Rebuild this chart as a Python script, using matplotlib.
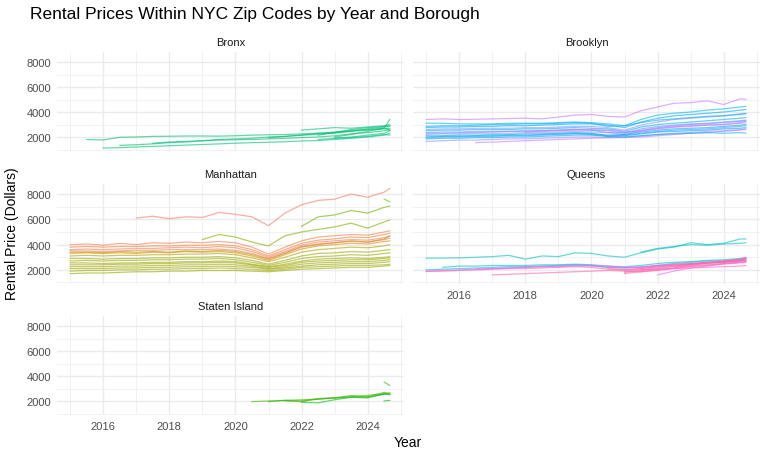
import numpy as np
import matplotlib.pyplot as plt
from matplotlib.ticker import MultipleLocator

plt.rcParams['font.family'] = ['Liberation Sans', 'DejaVu Sans']

# half-yearly sample dates, last one is the latest month in the data
dates = [2015.0, 2015.5, 2016.0, 2016.5, 2017.0, 2017.5, 2018.0, 2018.5, 2019.0, 2019.5,
         2020.0, 2020.5, 2021.0, 2021.5, 2022.0, 2022.5, 2023.0, 2023.5, 2024.0, 2024.5, 2024.67]

# each zip code: (first date, rents from there on)
bronx = [
    (2015.5, [1800, 1760, 1980, 2000, 2050, 2060, 2080, 2080, 2070, 2100, 2150, 2180, 2200, 2250, 2300, 2300, 2450, 2550, 2650, 2700]),
    (2016.0, [1120, 1150, 1200, 1250, 1300, 1350, 1400, 1450, 1500, 1550, 1580, 1620, 1680, 1720, 1800, 1900, 2000, 2150, 2300]),
    (2016.5, [1330, 1380, 1450, 1550, 1600, 1700, 1750, 1780, 1800, 1850, 1900, 1950, 2000, 2100, 2250, 2350, 2500, 2600]),
    (2017.5, [1500, 1600, 1650, 1700, 1800, 1850, 1900, 2000, 2050, 2150, 2200, 2350, 2500, 2650, 2800, 2850]),
    (2022.0, [2550, 2650, 2750, 2700, 2800, 2900, 3000]),
    (2022.5, [2150, 2350, 2600, 2750, 2850, 2900]),
    (2023.0, [2000, 2200, 2450, 2700, 3400]),
    (2022.5, [1800, 1900, 2000, 2150, 2300, 2500]),
    (2023.0, [1900, 1950, 2050, 2200, 2150]),
    (2021.0, [1950, 2050, 2150, 2300, 2400, 2500, 2600, 2700, 2550]),
]

brooklyn = [
    (2015.0, [3400, 3450, 3400, 3420, 3450, 3480, 3500, 3450, 3600, 3750, 3800, 3650, 3600, 4100, 4400, 4700, 4750, 4900, 4600, 5050, 5000]),
    (2015.0, [3100, 3100, 3050, 3050, 3050, 3100, 3100, 3100, 3150, 3200, 3150, 3050, 2900, 3400, 3750, 3900, 4000, 4150, 4250, 4400, 4450]),
    (2015.0, [2750, 2800, 2800, 2850, 2850, 2900, 2900, 2950, 3000, 3050, 3050, 2950, 2750, 3200, 3500, 3700, 3800, 3900, 4000, 4150, 4200]),
    (2015.0, [2600, 2650, 2650, 2700, 2700, 2700, 2750, 2750, 2800, 2850, 2850, 2750, 2550, 2950, 3200, 3400, 3500, 3600, 3700, 3850, 3900]),
    (2015.0, [2500, 2550, 2550, 2600, 2600, 2600, 2650, 2650, 2700, 2750, 2700, 2650, 2450, 2800, 3000, 3100, 3200, 3300, 3400, 3500, 3550]),
    (2015.0, [2350, 2400, 2400, 2450, 2450, 2450, 2500, 2500, 2550, 2600, 2550, 2500, 2300, 2650, 2850, 2950, 3050, 3100, 3200, 3300, 3350]),
    (2015.0, [2200, 2250, 2250, 2300, 2300, 2300, 2350, 2350, 2400, 2450, 2400, 2350, 2200, 2500, 2700, 2800, 2850, 2950, 3000, 3100, 3150]),
    (2015.0, [2100, 2100, 2150, 2150, 2200, 2200, 2250, 2250, 2300, 2350, 2300, 2150, 2200, 2400, 2550, 2650, 2700, 2750, 2850, 2950, 3000]),
    (2015.0, [1950, 2000, 2000, 2050, 2050, 2100, 2100, 2150, 2200, 2250, 2200, 2100, 2150, 2300, 2450, 2550, 2600, 2650, 2750, 2850, 2900]),
    (2015.0, [1850, 1900, 1900, 1950, 1950, 2000, 2000, 2050, 2100, 2150, 2150, 2050, 2100, 2250, 2400, 2450, 2500, 2550, 2650, 2700, 2750]),
    (2015.0, [1650, 1700, 1750, 1750, 1800, 1850, 1850, 1900, 1950, 2000, 2000, 1950, 2000, 2100, 2200, 2300, 2350, 2450, 2500, 2600, 2650]),
    (2016.5, [1550, 1600, 1650, 1700, 1750, 1800, 1850, 1900, 1950, 1950, 2000, 2100, 2200, 2300, 2350, 2450, 2550, 2600]),
    (2015.0, [2000, 2050, 2050, 2100, 2100, 2150, 2150, 2200, 2250, 2300, 2250, 2050, 2000, 2100, 2200, 2250, 2300, 2350, 2300, 2350, 2300]),
    (2015.0, [2850, 2900, 2900, 2950, 3000, 3000, 3050, 3050, 3100, 3150, 3100, 2850, 2900, 3150, 3350, 3450, 3550, 3650, 3700, 3800, 3850]),
    (2015.0, [2300, 2300, 2350, 2350, 2400, 2450, 2450, 2500, 2550, 2600, 2550, 2350, 2350, 2550, 2750, 2900, 3000, 3050, 3150, 3250, 3300]),
    (2018.0, [2400, 2450, 2500, 2550, 2600, 2550, 2400, 2450, 2650, 2800, 2900, 2950, 3000, 3150, 3250]),
]

manhattan = [
    (2015.0, [4000, 4050, 3950, 4100, 4000, 4150, 4100, 4200, 4150, 4250, 4150, 3800, 3250, 3800, 4300, 4600, 4700, 4800, 4750, 5000, 5100]),
    (2015.0, [3800, 3850, 3800, 3850, 3850, 3900, 3900, 3950, 3950, 4000, 3900, 3600, 3100, 3600, 4100, 4350, 4450, 4600, 4550, 4800, 4900]),
    (2015.0, [3400, 3400, 3350, 3450, 3400, 3450, 3400, 3500, 3450, 3550, 3450, 3200, 2850, 3300, 3800, 4000, 4150, 4300, 4200, 4450, 4700]),
    (2015.0, [3300, 3350, 3300, 3350, 3300, 3400, 3350, 3450, 3400, 3450, 3350, 3100, 2750, 3200, 3650, 3900, 4000, 4100, 4050, 4250, 4300]),
    (2015.0, [3600, 3650, 3600, 3650, 3700, 3700, 3750, 3800, 3750, 3850, 3750, 3450, 3000, 3450, 3950, 4200, 4300, 4400, 4350, 4550, 4650]),
    (2015.0, [3100, 3150, 3100, 3150, 3150, 3200, 3200, 3250, 3250, 3300, 3200, 2950, 2650, 3000, 3400, 3600, 3700, 3800, 3750, 3900, 4000]),
    (2015.0, [2900, 2900, 2850, 2900, 2900, 2950, 2950, 3000, 3000, 3050, 2950, 2750, 2450, 2750, 3100, 3300, 3350, 3450, 3400, 3550, 3600]),
    (2015.0, [2700, 2750, 2700, 2750, 2750, 2800, 2800, 2850, 2850, 2900, 2800, 2600, 2350, 2600, 2900, 3050, 3100, 3200, 3150, 3300, 3350]),
    (2015.0, [2550, 2550, 2500, 2550, 2550, 2600, 2600, 2650, 2650, 2700, 2650, 2450, 2250, 2450, 2700, 2850, 2900, 2950, 2900, 3000, 3050]),
    (2015.0, [2400, 2400, 2400, 2450, 2450, 2500, 2500, 2550, 2550, 2600, 2550, 2400, 2200, 2350, 2600, 2700, 2750, 2800, 2800, 2900, 2950]),
    (2015.0, [2250, 2250, 2250, 2300, 2300, 2350, 2350, 2400, 2400, 2450, 2400, 2300, 2100, 2250, 2450, 2550, 2600, 2650, 2650, 2750, 2800]),
    (2015.0, [2100, 2100, 2100, 2150, 2150, 2200, 2200, 2250, 2250, 2300, 2250, 2200, 2050, 2150, 2300, 2400, 2450, 2500, 2500, 2600, 2650]),
    (2015.0, [1900, 1950, 1950, 2000, 2000, 2050, 2050, 2100, 2100, 2150, 2100, 2050, 1950, 2050, 2200, 2250, 2300, 2350, 2350, 2400, 2450]),
    (2015.0, [1700, 1750, 1750, 1800, 1850, 1850, 1900, 1900, 1950, 1950, 1950, 1900, 1850, 1950, 2050, 2100, 2150, 2200, 2200, 2300, 2350]),
    (2017.0, [6100, 6250, 6050, 6200, 6150, 6550, 6400, 6200, 5500, 6500, 7150, 7500, 7600, 8000, 7750, 8150, 8450]),
    (2022.0, [5450, 6200, 6350, 6700, 6500, 6950, 7050]),
    (2019.0, [4400, 4800, 4600, 4200, 3900, 4700, 5000, 5200, 5400, 5700, 5300, 5800, 5950]),
    (2024.5, [7600, 7400]),
    (2015.0, [3500, 3500, 3450, 3500, 3550, 3550, 3600, 3600, 3600, 3650, 3550, 3300, 2900, 3350, 3850, 4050, 4150, 4250, 4200, 4400, 4500]),
]

queens = [
    (2015.0, [2930, 2930, 2950, 3000, 3050, 3150, 2850, 3100, 3050, 3350, 3300, 3100, 3000, 3350, 3650, 3800, 4150, 4000, 4100, 4450, 4450]),
    (2021.5, [3400, 3700, 3850, 4000, 3950, 4050, 4100, 4150]),
    (2015.5, [2200, 2300, 2300, 2350, 2350, 2350, 2400, 2400, 2450, 2400, 2300, 2250, 2350, 2500, 2600, 2650, 2750, 2800, 2900, 2950]),
    (2015.0, [2000, 2050, 2100, 2150, 2200, 2250, 2250, 2300, 2350, 2400, 2350, 2200, 2150, 2200, 2350, 2500, 2600, 2700, 2700, 2850, 2900]),
    (2015.0, [1870, 1900, 1950, 2000, 2050, 2100, 2100, 2150, 2200, 2250, 2200, 2050, 2000, 2100, 2250, 2350, 2450, 2550, 2600, 2700, 2750]),
    (2015.0, [1900, 1950, 2000, 2050, 2100, 2150, 2200, 2250, 2300, 2350, 2300, 2200, 2150, 2250, 2350, 2450, 2500, 2600, 2650, 2750, 2800]),
    (2017.0, [1600, 1650, 1700, 1750, 1800, 1850, 1900, 1950, 1900, 1850, 1950, 2100, 2250, 2350, 2500, 2600, 2650]),
    (2016.5, [2050, 2100, 2150, 2200, 2250, 2250, 2300, 2350, 2300, 2200, 2200, 2300, 2400, 2450, 2550, 2650, 2700, 2750]),
    (2021.0, [1800, 1950, 2100, 2250, 2400, 2550, 2650, 2800, 2900]),
    (2021.0, [1700, 1850, 2000, 2150, 2300, 2400, 2500, 2600, 2650]),
    (2022.0, [1600, 1900, 2150, 2300, 2450, 2550, 2600]),
    (2021.5, [2000, 2150, 2300, 2450, 2550, 2700, 2850, 3000]),
    (2020.5, [2100, 2000, 2100, 2250, 2400, 2500, 2600, 2700, 2800, 2750]),
    (2022.5, [2200, 2350, 2500, 2600, 2700, 2900]),
    (2021.0, [1900, 2000, 2050, 2100, 2150, 2200, 2250, 2300, 2350]),
]

staten_island = [
    (2020.5, [1950, 2000, 2050, 2100, 2150, 2250, 2350, 2450, 2600, 2650]),
    (2021.0, [1950, 2050, 2000, 2150, 2250, 2300, 2350, 2550, 2600]),
    (2021.5, [2000, 1950, 2200, 2250, 2450, 2300, 2700, 2550]),
    (2022.0, [1900, 1850, 2100, 2300, 2250, 2550, 2500]),
    (2024.5, [3500, 3250]),
    (2024.5, [2000, 2050]),
]

# ggplot-like hues for each zip line
hues = {
    'Bronx': [152, 158, 150, 162, 155, 160, 148, 165, 157, 153],
    'Brooklyn': [290, 222, 245, 265, 235, 255, 275, 232, 250, 240, 270, 285, 215, 228, 260, 295],
    'Manhattan': [25, 32, 88, 38, 20, 80, 95, 90, 84, 96, 86, 92, 88, 94, 18, 110, 104, 108, 28],
    'Queens': [195, 198, 200, 205, 345, 320, 350, 300, 340, 355, 305, 335, 360, 345, 330],
    'Staten Island': [122, 126, 118, 130, 124, 128],
}


def hcl(h, c=100, l=65):
    h = np.radians(h)
    u, v = c * np.cos(h), c * np.sin(h)
    xn, yn, zn = 0.95047, 1.0, 1.08883
    un = 4 * xn / (xn + 15 * yn + 3 * zn)
    vn = 9 * yn / (xn + 15 * yn + 3 * zn)
    y = yn * ((l + 16) / 116) ** 3
    up = u / (13 * l) + un
    vp = v / (13 * l) + vn
    x = y * 9 * up / (4 * vp)
    z = y * (12 - 3 * up - 20 * vp) / (4 * vp)
    m = np.array([[3.2406, -1.5372, -0.4986],
                  [-0.9689, 1.8758, 0.0415],
                  [0.0557, -0.2040, 1.0570]])
    rgb = np.clip(m @ np.array([x, y, z]), 0, 1)
    rgb = np.where(rgb <= 0.0031308, 12.92 * rgb, 1.055 * rgb ** (1 / 2.4) - 0.055)
    return np.clip(rgb, 0, 1)


W, H = 768, 460
fig = plt.figure(figsize=(W / 100, H / 100), dpi=100)


def make_ax(x0, y0, x1, y1):
    return fig.add_axes([x0 / W, 1 - y1 / H, (x1 - x0) / W, (y1 - y0) / H])


panels = [
    ('Bronx', bronx, (57, 53, 404, 152), True, False),
    ('Brooklyn', brooklyn, (413, 53, 760, 152), False, False),
    ('Manhattan', manhattan, (57, 185, 404, 285), True, False),
    ('Queens', queens, (413, 185, 760, 285), False, True),
    ('Staten Island', staten_island, (57, 317, 404, 416), True, True),
]

for name, series, box, ylab, xlab in panels:
    ax = make_ax(*box)
    for (start, vals), h in zip(series, hues[name]):
        i = dates.index(start)
        ax.plot(dates[i:i + len(vals)], vals, color=hcl(h), alpha=0.6, lw=0.9)
    ax.set_xlim(2014.6, 2025.1)
    ax.set_ylim(880, 8800)
    ax.xaxis.set_major_locator(MultipleLocator(2))
    ax.xaxis.set_minor_locator(MultipleLocator(1))
    ax.yaxis.set_major_locator(MultipleLocator(2000))
    ax.yaxis.set_minor_locator(MultipleLocator(1000))
    ax.grid(which='major', color='#EBEBEB', lw=1.0)
    ax.grid(which='minor', color='#EFEFEF', lw=0.6)
    ax.set_axisbelow(True)
    for s in ax.spines.values():
        s.set_visible(False)
    ax.tick_params(which='both', length=0, labelsize=8, labelcolor='#4D4D4D', pad=4)
    if not ylab:
        ax.set_yticklabels([])
    if not xlab:
        ax.set_xticklabels([])
    ax.set_title(name, fontsize=8, color='#1A1A1A', pad=5)

fig.text(30 / W, 1 - 15 / H, 'Rental Prices Within NYC Zip Codes by Year and Borough',
         fontsize=12.5, ha='left', va='center')
fig.text(12 / W, 1 - 234 / H, 'Rental Price (Dollars)', fontsize=10, rotation=90,
         ha='center', va='center')
fig.text(408 / W, 1 - 443 / H, 'Year', fontsize=10, ha='center', va='center')

fig.savefig('out.png', dpi=100)
